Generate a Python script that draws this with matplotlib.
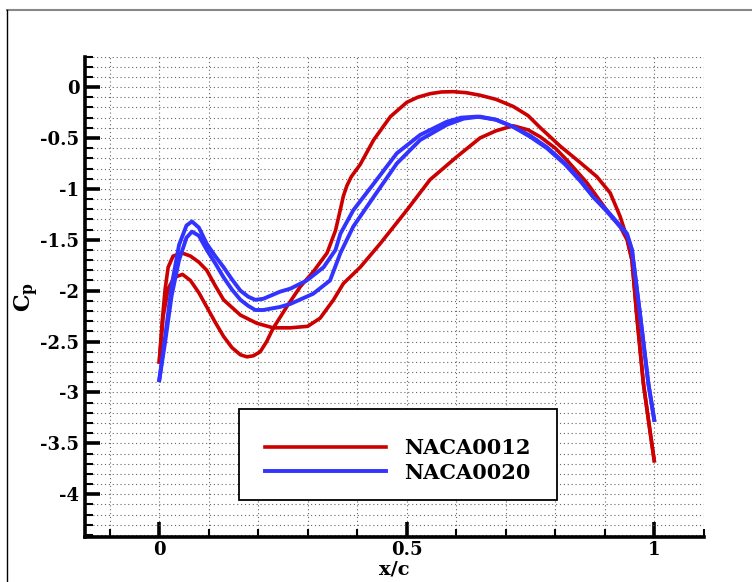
import numpy as np
import matplotlib
matplotlib.use('Agg')
import matplotlib.pyplot as plt
from matplotlib.ticker import MultipleLocator, FuncFormatter
from matplotlib.lines import Line2D
from matplotlib.patches import Rectangle

plt.rcParams['axes.unicode_minus'] = False
plt.rcParams['mathtext.fontset'] = 'dejavuserif'

# ── Data ──────────────────────────────────────────────────────────────────────
# NACA0012, branch with the suction peak near x/c = 0.6
x_0012_a = [0, 0.008, 0.018, 0.03, 0.047, 0.063, 0.08, 0.096, 0.113, 0.13,
            0.147, 0.164, 0.177, 0.19, 0.204, 0.217, 0.23, 0.26, 0.285, 0.311,
            0.339, 0.356, 0.366, 0.372, 0.379, 0.388, 0.406, 0.433, 0.467, 0.5,
            0.522, 0.547, 0.57, 0.594, 0.62, 0.648, 0.68, 0.715, 0.745, 0.77,
            0.81, 0.85, 0.884, 0.911, 0.931, 0.945, 0.955, 0.965, 0.978, 0.992,
            1.0]
cp_0012_a = [-2.70, -2.25, -1.98, -1.87, -1.84, -1.90, -2.02, -2.16, -2.31, -2.45,
             -2.56, -2.63, -2.65, -2.64, -2.60, -2.50, -2.37, -2.14, -1.96, -1.815,
             -1.63, -1.41, -1.20, -1.07, -0.97, -0.88, -0.76, -0.52, -0.29, -0.15,
             -0.10, -0.065, -0.048, -0.045, -0.055, -0.08, -0.12, -0.19, -0.28, -0.40,
             -0.58, -0.74, -0.88, -1.04, -1.27, -1.48, -1.70, -2.26, -2.91, -3.40,
             -3.67]

# NACA0012, branch with the flat minimum and the linear recovery
x_0012_b = [0, 0.006, 0.012, 0.018, 0.028, 0.046, 0.063, 0.08, 0.096, 0.113,
            0.13, 0.164, 0.197, 0.23, 0.265, 0.3, 0.325, 0.352, 0.372, 0.406,
            0.446, 0.5, 0.547, 0.601, 0.648, 0.68, 0.715, 0.745, 0.77, 0.8,
            0.824, 0.864, 0.904, 0.931, 0.945, 0.955, 0.965, 0.978, 0.992, 1.0]
cp_0012_b = [-2.70, -2.30, -1.98, -1.77, -1.66, -1.63, -1.66, -1.72, -1.80, -1.95,
             -2.09, -2.24, -2.32, -2.365, -2.365, -2.35, -2.27, -2.09, -1.93, -1.77,
             -1.54, -1.21, -0.91, -0.685, -0.50, -0.43, -0.38, -0.42, -0.49, -0.60,
             -0.72, -0.94, -1.21, -1.37, -1.50, -1.70, -2.26, -2.91, -3.40, -3.67]

# NACA0020, upper branch
x_0020_a = [0, 0.012, 0.025, 0.04, 0.055, 0.066, 0.08, 0.096, 0.113, 0.13,
            0.147, 0.164, 0.18, 0.194, 0.21, 0.244, 0.265, 0.298, 0.332, 0.356,
            0.366, 0.392, 0.433, 0.48, 0.527, 0.581, 0.61, 0.642, 0.68, 0.715,
            0.75, 0.783, 0.82, 0.85, 0.877, 0.904, 0.945, 0.955, 0.972, 0.988,
            1.0]
cp_0020_a = [-2.88, -2.45, -1.95, -1.55, -1.36, -1.32, -1.38, -1.54, -1.66, -1.77,
             -1.89, -2.00, -2.06, -2.09, -2.08, -2.01, -1.98, -1.90, -1.77, -1.60,
             -1.44, -1.21, -0.95, -0.65, -0.47, -0.34, -0.30, -0.29, -0.32, -0.39,
             -0.48, -0.59, -0.75, -0.91, -1.08, -1.21, -1.44, -1.60, -2.26, -2.91,
             -3.27]

# NACA0020, lower branch
x_0020_b = [0, 0.012, 0.025, 0.04, 0.055, 0.066, 0.08, 0.096, 0.113, 0.13,
            0.147, 0.164, 0.18, 0.194, 0.21, 0.244, 0.265, 0.311, 0.345, 0.366,
            0.392, 0.433, 0.48, 0.527, 0.581, 0.615, 0.648, 0.68, 0.715, 0.75,
            0.783, 0.82, 0.85, 0.877, 0.904, 0.945, 0.955, 0.972, 0.988, 1.0]
cp_0020_b = [-2.88, -2.50, -2.05, -1.70, -1.48, -1.42, -1.46, -1.60, -1.73, -1.87,
             -1.99, -2.09, -2.15, -2.19, -2.19, -2.16, -2.13, -2.03, -1.90, -1.63,
             -1.37, -1.08, -0.75, -0.52, -0.37, -0.31, -0.29, -0.32, -0.39, -0.49,
             -0.60, -0.76, -0.92, -1.08, -1.22, -1.45, -1.60, -2.26, -2.91, -3.27]

labels = ['NACA0012', 'NACA0020']

C_red  = '#cc0000'
C_blue = '#3333ff'
FONT   = 'DejaVu Serif'

# ── Figure ────────────────────────────────────────────────────────────────────
W, H = 752, 582
fig = plt.figure(figsize=(W / 100, H / 100), dpi=100)
ax_l, ax_r, ax_t, ax_b = 85, 704, 56.5, 537
ax = fig.add_axes([ax_l / W, 1 - ax_b / H, (ax_r - ax_l) / W, (ax_b - ax_t) / H])


def px2ax(px, py):
    return (px - ax_l) / (ax_r - ax_l), (ax_b - py) / (ax_b - ax_t)


ax.plot(x_0012_a, cp_0012_a, color=C_red, lw=2.6, label=labels[0])
ax.plot(x_0012_b, cp_0012_b, color=C_red, lw=2.6)
ax.plot(x_0020_a, cp_0020_a, color=C_blue, lw=2.8, label=labels[1])
ax.plot(x_0020_b, cp_0020_b, color=C_blue, lw=2.8)

ax.set_xlim(-0.15, 1.1005)
ax.set_ylim(-4.42, 0.3005)

ax.xaxis.set_major_locator(MultipleLocator(0.5))
ax.xaxis.set_minor_locator(MultipleLocator(0.1))
ax.yaxis.set_major_locator(MultipleLocator(0.5))
ax.yaxis.set_minor_locator(MultipleLocator(0.1))
fmt = FuncFormatter(lambda v, p: '%g' % round(v, 2))
ax.xaxis.set_major_formatter(fmt)
ax.yaxis.set_major_formatter(fmt)

ax.grid(True, which='both', color='#666666', lw=0.8, ls=(0, (1, 2.5)))
ax.set_axisbelow(True)

for s in ('top', 'right'):
    ax.spines[s].set_visible(False)
for s in ('left', 'bottom'):
    ax.spines[s].set_linewidth(2.6)

ax.tick_params(which='major', direction='in', length=11, width=2.6,
               labelsize=13, pad=3)
ax.tick_params(axis='y', which='major', pad=4)
ax.tick_params(which='minor', direction='in', length=5.5, width=1.5)
for lab in ax.get_xticklabels() + ax.get_yticklabels():
    lab.set_fontfamily(FONT)
    lab.set_fontweight('bold')

ax.set_xlabel('x/c', fontfamily=FONT, fontweight='bold', fontsize=14, va='top')
ax.xaxis.set_label_coords(0.5, px2ax(0, 560)[1])
ax.set_ylabel(r'$\mathbf{C_p}$', fontsize=16, rotation=90, va='center', ha='center')
ax.yaxis.set_label_coords(px2ax(27, 0)[0], 0.5)

# legend: entries without frame, frame drawn as its own box
leg = ax.legend(loc='center left', bbox_to_anchor=px2ax(265, 460.5),
                borderaxespad=0, borderpad=0, handlelength=5.8,
                handletextpad=0.9, labelspacing=0.2, frameon=False,
                prop={'family': FONT, 'weight': 'bold', 'size': 15})
x0, y0 = px2ax(239, 500)
x1, y1 = px2ax(557, 409)
ax.add_patch(Rectangle((x0, y0), x1 - x0, y1 - y0, transform=ax.transAxes,
                       facecolor='white', edgecolor='black', lw=1.3, zorder=4))
leg.set_zorder(5)

# outer frame of the plot page
fig.add_artist(Line2D([7 / W, 1], [1 - 10 / H, 1 - 10 / H], color='#888888',
                      lw=1.5, transform=fig.transFigure))
fig.add_artist(Line2D([7 / W, 7 / W], [0, 1 - 10 / H], color='black',
                      lw=1.0, transform=fig.transFigure))

fig.savefig('out.png', dpi=100)
